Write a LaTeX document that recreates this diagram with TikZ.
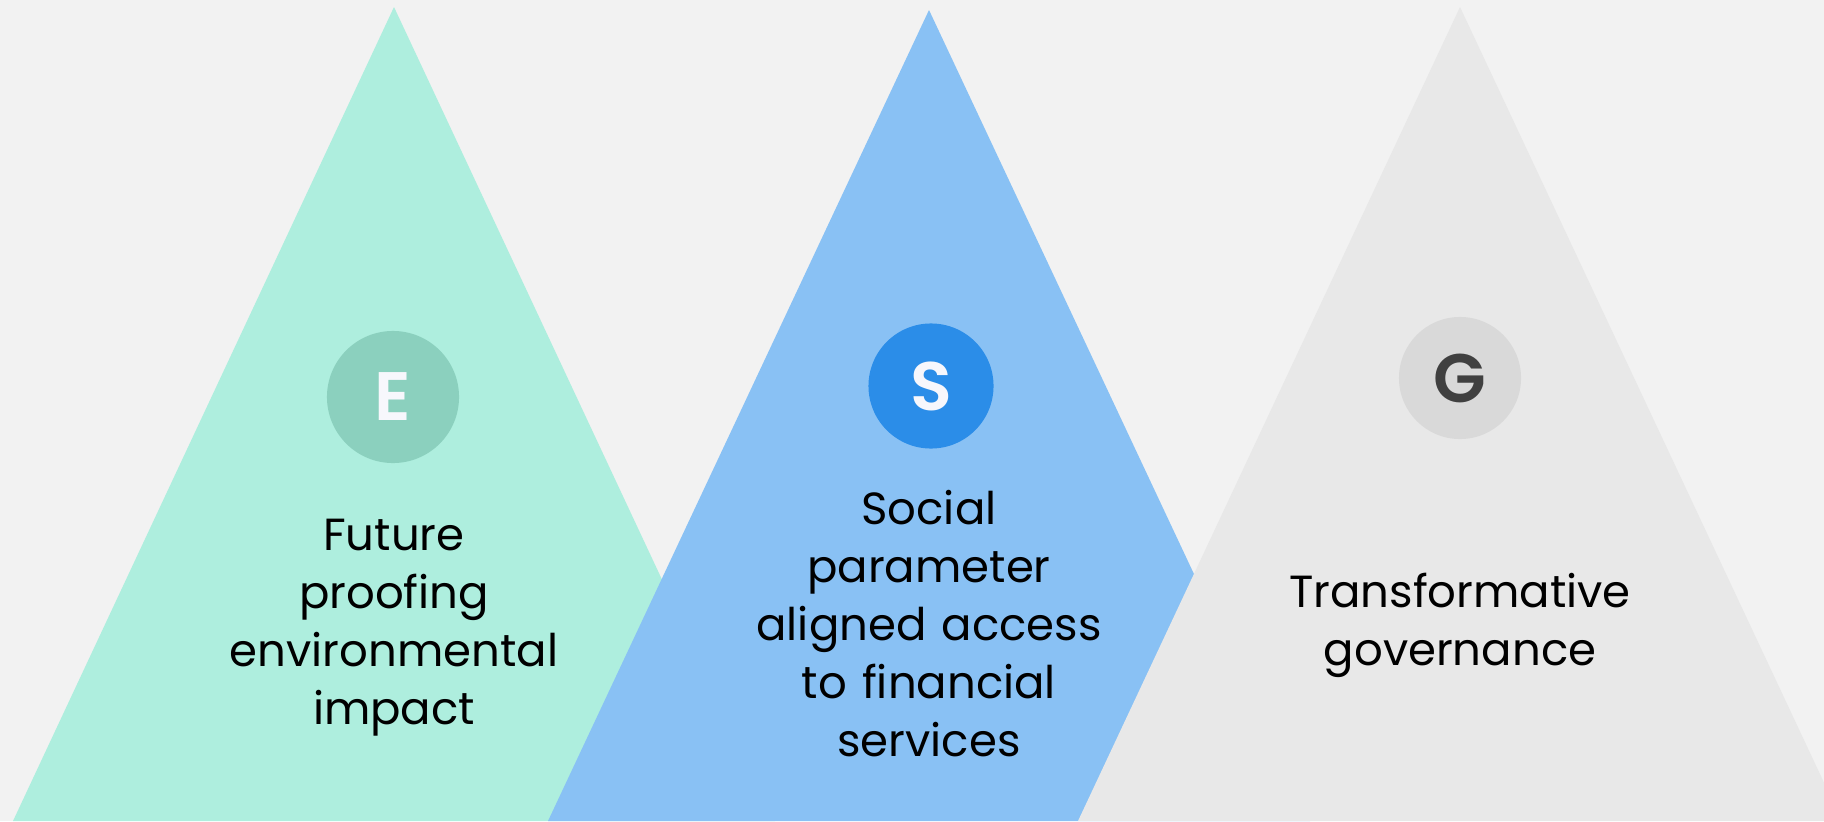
\documentclass[tikz,border=0pt]{standalone}
\usepackage{fontspec}
\setmainfont{Poppins}
\IfFontExistsTF{Poppins SemiBold}{\newfontfamily\letterfont{Poppins SemiBold}}{\newfontfamily\letterfont{Poppins}}
\usepackage{xcolor}
\usepackage{tikz}

\definecolor{bgcol}{HTML}{F2F2F2}
\definecolor{envtri}{HTML}{AEEEDE}
\definecolor{envdot}{HTML}{8BD0BE}
\definecolor{soctri}{HTML}{89C1F4}
\definecolor{socdot}{HTML}{2B8DE8}
\definecolor{govtri}{HTML}{E8E8E8}
\definecolor{govdot}{HTML}{D9D9D9}
\definecolor{govtxt}{HTML}{404040}
\definecolor{lettxt}{HTML}{F7F7FC}

\begin{document}
\begin{tikzpicture}[x=0.01cm, y=-0.01cm,
        letter/.style={shape=circle, inner sep=0pt, font=\fontsize{19.5}{19.5}\selectfont\letterfont},
        caption/.style={anchor=base, align=center, text width=4.2cm, inner sep=0pt, font=\fontsize{12.8}{16.5}\selectfont}]
        \fill[bgcol] (0,0) rectangle (1824,821);
        \useasboundingbox (0,0) rectangle (1824,821);

        \begin{scope}
            \clip (0,0) rectangle (1824,821);
            \fill[envtri] (394,7) -- (775,821) -- (13,821) -- cycle;
            \fill[soctri] (929,10) -- (1310,821) -- (548,821) -- cycle;
            \fill[govtri] (1460,7) -- (1842,821) -- (1078,821) -- cycle;
        \end{scope}

        \node[letter, fill=envdot, text=lettxt, minimum size=1.32cm] (E) at (393, 397) {E};
        \node[letter, fill=socdot, text=lettxt, minimum size=1.25cm] (S) at (931, 386) {S};
        \node[letter, fill=govdot, text=govtxt, minimum size=1.22cm] (G) at (1460, 378) {G};

        \node[caption] (Etext) at (394, 550) {Future\\ proofing\\ environmental\\ impact};
        \node[caption] (Stext) at (929, 524) {Social\\ parameter\\ aligned access\\ to financial\\ services};
        \node[caption] (Gtext) at (1460, 607) {Transformative\\ governance};
    \end{tikzpicture}
\end{document}
